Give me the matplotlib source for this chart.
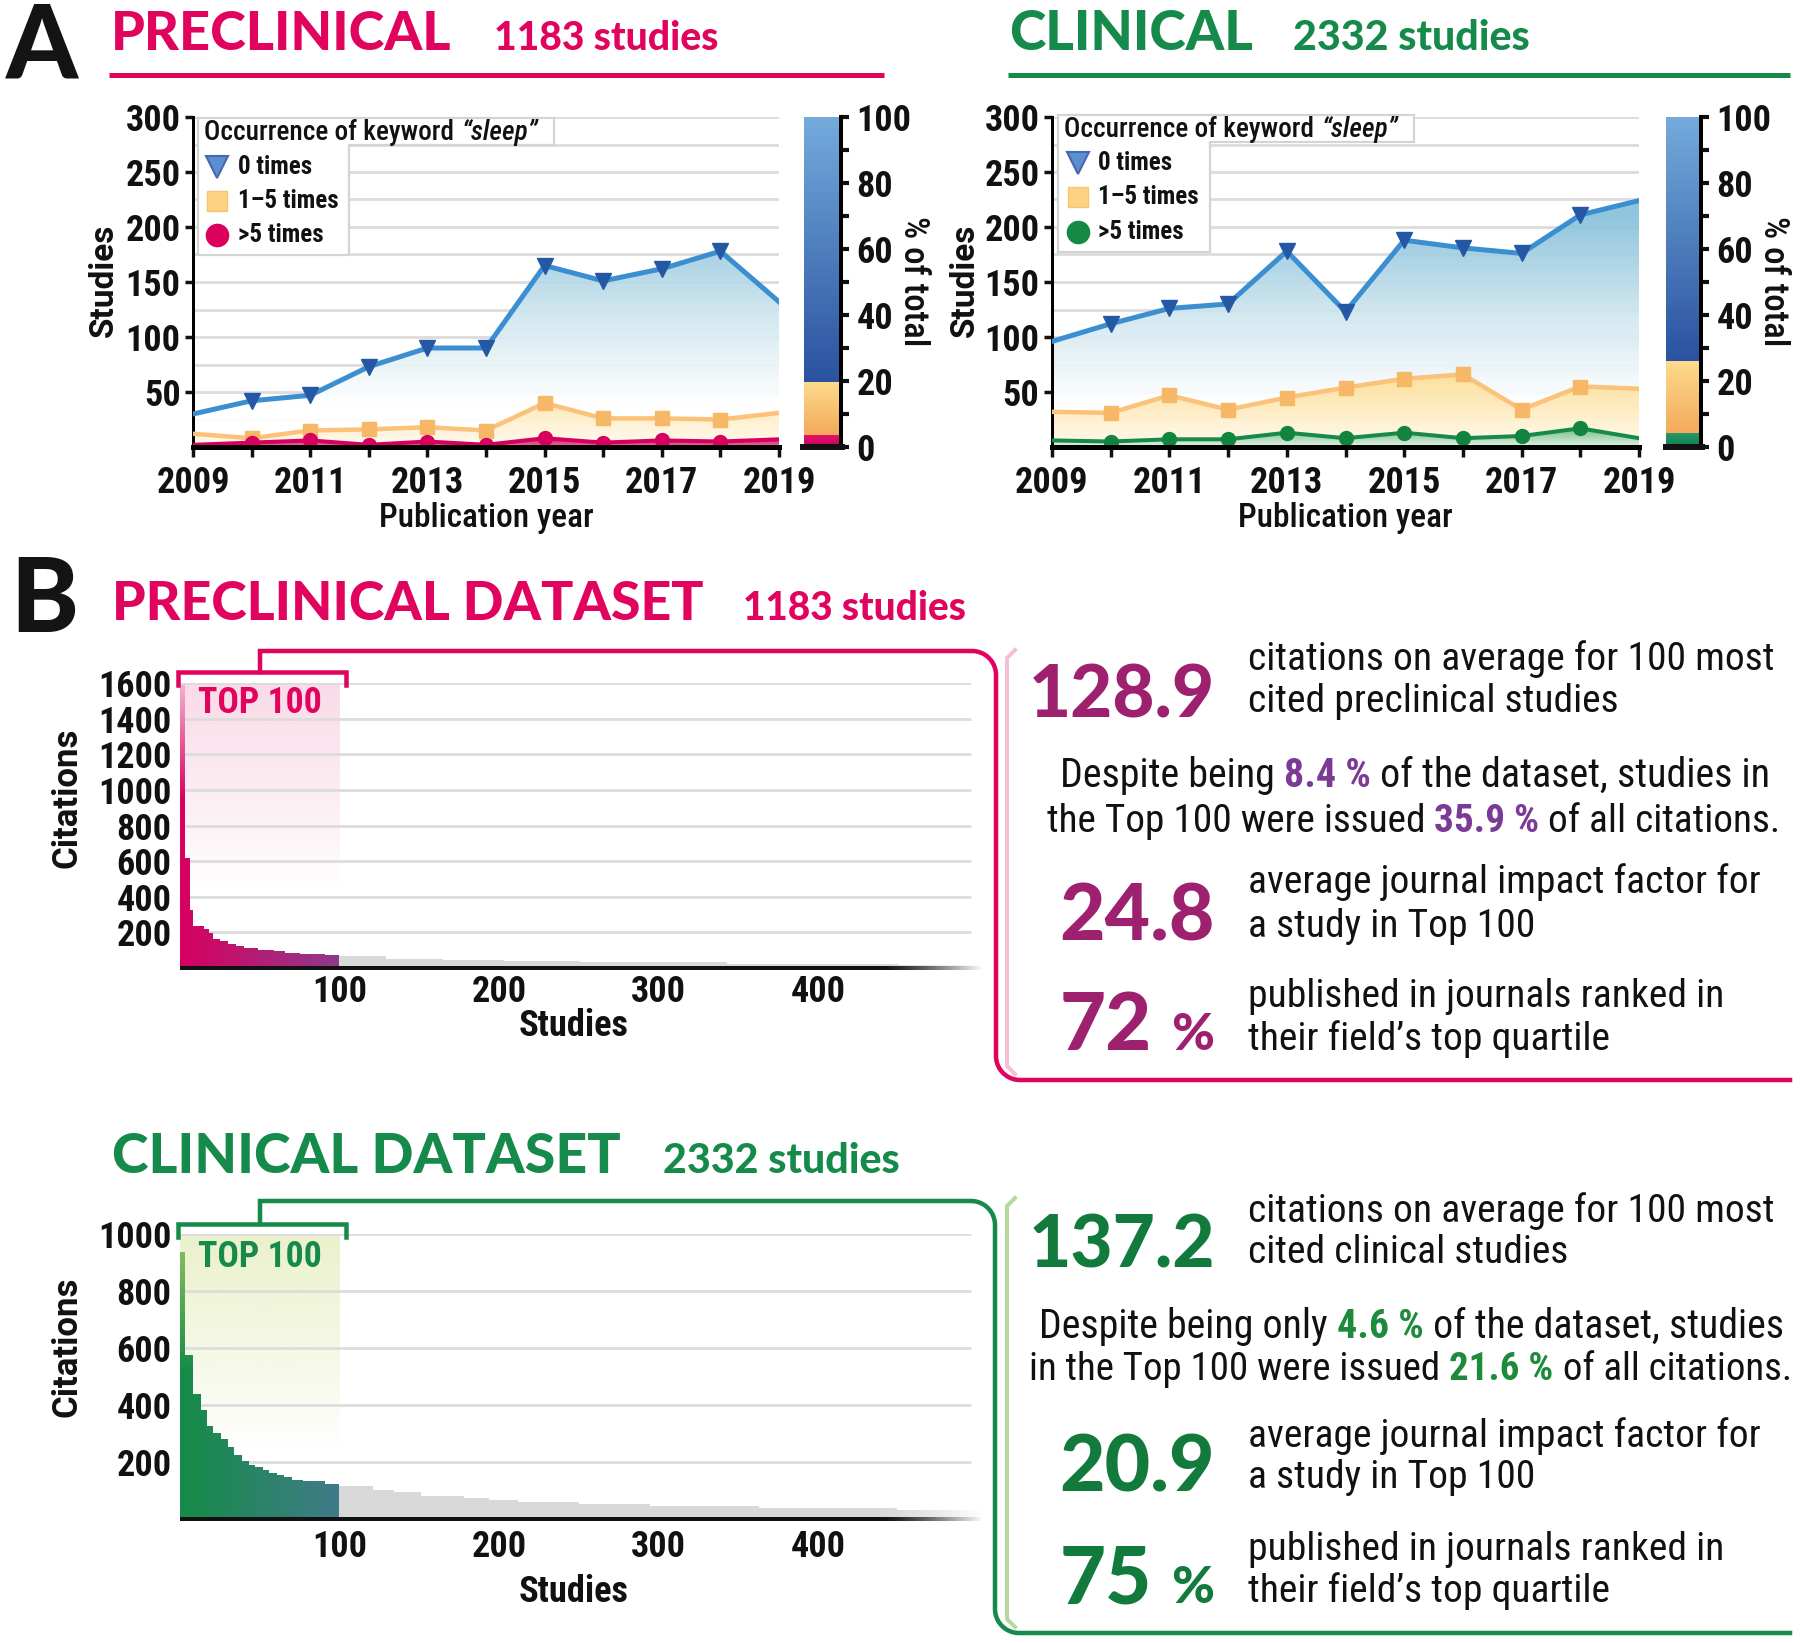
import numpy as np
import matplotlib
matplotlib.use("Agg")
import matplotlib.pyplot as plt
from matplotlib.patches import Polygon
from matplotlib.path import Path
from matplotlib.colors import to_rgb

# ---------------- data ----------------
years = [2009, 2010, 2011, 2012, 2013, 2014, 2015, 2016, 2017, 2018, 2019]
year_labels = ["2009", "", "2011", "", "2013", "", "2015", "", "2017", "", "2019"]
studies_yticks = [50, 100, 150, 200, 250, 300]
pct_ticks = [0, 20, 40, 60, 80, 100]
legend_title = "Occurrence of keyword "
legend_keyword = "\u201csleep\u201d"
legend_labels = ["0 times", "1\u20135 times", ">5 times"]

pre_zero = [30, 42, 47, 73, 90, 90, 165, 151, 162, 178, 132]
pre_low = [12, 8, 15, 16, 18, 15, 40, 26, 26, 25, 31]
pre_high = [2, 4, 6, 2, 5, 2, 8, 4, 6, 5, 7]
cli_zero = [96, 112, 126, 130, 178, 123, 188, 181, 176, 211, 224]
cli_low = [32, 31, 47, 34, 45, 54, 62, 66, 34, 55, 53]
cli_high = [6, 5, 7, 7, 13, 8, 13, 8, 10, 17, 8]

study_ticks = [100, 200, 300, 400]
pre_cit_ticks = [200, 400, 600, 800, 1000, 1200, 1400, 1600]
cli_cit_ticks = [200, 400, 600, 800, 1000]

pre_top_edges = [0, 3, 6, 8, 15, 18, 21, 25, 30, 35, 40, 49, 59, 66, 75, 91, 100]
pre_top_vals = [1590, 620, 323, 233, 218, 196, 164, 149, 136, 125, 112, 99, 93, 84, 78, 71]
pre_rest_edges = [100, 129, 165, 203, 251, 343, 451, 503]
pre_rest_vals = [65, 52, 43, 37, 32, 24, 17]

cli_top_edges = [0, 3, 8, 13, 17, 21, 26, 30, 34, 39, 43, 47, 52, 56, 61, 65, 70, 77, 91, 100]
cli_top_vals = [938, 574, 438, 381, 325, 301, 280, 251, 225, 204, 190, 182, 171, 161, 153,
                146, 138, 132, 124]
cli_rest_edges = [100, 121, 134, 151, 178, 194, 212, 250, 295, 363, 450, 503]
cli_rest_vals = [117, 103, 93, 82, 74, 65, 60, 54, 44, 39, 30]

pre_numbers = ["128.9", "24.8", "72"]
cli_numbers = ["137.2", "20.9", "75"]
pre_share = ["8.4 %", "35.9 %"]
cli_share = ["4.6 %", "21.6 %"]

# ---------------- style ----------------
W, H = 1800, 1643
MAG = "#e0045f"
GRN = "#168a4a"
PRE_NUM = "#9e2170"
PRE_HL = "#7a3a96"
CLI_NUM = "#127a3c"
CLI_HL = "#1d8b3b"
INK = "#111111"
BODY = ["Roboto Condensed", "Liberation Sans Narrow", "Roboto"]
HEAVY = ["Lato"]
WIDE = ["Roboto"]

fig = plt.figure(figsize=(W / 100, H / 100), dpi=100)
fig.patch.set_facecolor("white")
RND = fig.canvas.get_renderer()


def PT(px):
    return px * 0.72


def axes_px(l, t, r, b, **kw):
    return fig.add_axes([l / W, 1 - b / H, (r - l) / W, (b - t) / H], **kw)


def ptext(x, y, s, size, **kw):
    kw.setdefault("ha", "left")
    kw.setdefault("va", "baseline")
    return fig.text(x / W, 1 - y / H, s, fontsize=size, **kw)


def text_w(s, size, **kw):
    kw = {k: v for k, v in kw.items() if k not in ("ha", "va", "color")}
    t = fig.text(0, 0, s + "|", fontsize=size, **kw)
    t2 = fig.text(0, 0, "|", fontsize=size, **kw)
    w = t.get_window_extent(RND).width - t2.get_window_extent(RND).width
    t.remove()
    t2.remove()
    return w


def fit_size(s, width, size=30, **kw):
    return size * width / text_w(s, size, **kw)


def fit_text(x, y, s, width, size=30, **kw):
    return ptext(x, y, s, fit_size(s, width, size, **kw), **kw)


def seg_line(x, y, segs, width, size=26):
    ws = [text_w(s, size, **kw) for s, c, kw in segs]
    sc = width / sum(ws)
    cx = x
    for (s, c, kw), w in zip(segs, ws):
        ptext(cx, y, s, size * sc, color=c, **kw)
        cx += w * sc


def gradient_fill(ax, x, y, stops, z):
    poly = ax.fill_between(x, y, 0, facecolor="none", edgecolor="none", zorder=z)
    ys = np.array([s[0] for s in stops], float)
    cs = np.array([to_rgb(s[1]) for s in stops])
    ymax = max(y)
    yy = np.linspace(ymax, 0, 300)
    img = np.stack([np.interp(yy, ys, cs[:, k]) for k in range(3)], -1)[:, None, :]
    im = ax.imshow(img, extent=[x[0], x[-1], 0, ymax], origin="upper", aspect="auto",
                   interpolation="bilinear", zorder=z, alpha=0.92)
    im.set_clip_path(poly.get_paths()[0], transform=ax.transData)


# overlay axes in pixel coordinates for decorations
ov = fig.add_axes([0, 0, 1, 1], zorder=2)
ov.set_xlim(0, W)
ov.set_ylim(H, 0)
ov.set_axis_off()


# ---------------- panel A ----------------
def panel_a(left, right, cb_left, cb_right, zero, low, high, hi_line, hi_mark, hi_fill,
            hi_bar, ylab_x, pct_x, leg):
    top, bot = 117, 447
    ax = axes_px(left, top, right, bot)
    x = np.array(years, float)
    for g in range(25, 301, 25):
        ax.axhline(g, color="#dcdcdc", lw=2.0, zorder=0.5)
    gradient_fill(ax, x, zero, [(40, "#ffffff"), (120, "#cfe6ef"), (210, "#86c0db")], 1.0)
    gradient_fill(ax, x, low, [(0, "#fffaf0"), (70, "#fddc8c")], 1.2)
    gradient_fill(ax, x, high, hi_fill, 1.4)
    me = list(range(1, len(years) - 1))
    ax.plot(x, zero, color="#3b8ed0", lw=PT(5), marker="v", ms=11, mfc="#2458a4",
            mec="#2458a4", markevery=me, zorder=6)
    ax.plot(x, low, color="#fbc27a", lw=PT(4.5), marker="s", ms=9.5, mfc="#f6b766",
            mec="#f6b766", markevery=me, zorder=5)
    ax.plot(x, high, color=hi_line, lw=PT(4), marker="o", ms=10, mfc=hi_mark,
            mec=hi_mark, markevery=me, zorder=5.5)
    ax.set_xlim(2009, 2019)
    ax.set_ylim(0, 300)
    for s in ("top", "right"):
        ax.spines[s].set_visible(False)
    ax.spines["left"].set_linewidth(PT(3))
    ax.spines["bottom"].set_linewidth(PT(5))
    ax.spines["bottom"].set_zorder(8)
    ax.set_yticks(studies_yticks)
    ax.set_yticklabels([str(v) for v in studies_yticks], fontfamily=BODY,
                       fontweight="bold", fontsize=26)
    ax.set_xticks(years)
    ax.set_xticklabels(year_labels, fontfamily=BODY, fontweight="bold", fontsize=26)
    ax.tick_params(axis="y", length=6, width=2.5, pad=3, colors=INK)
    ax.tick_params(axis="x", length=7, width=2.5, pad=6, colors=INK)

    # stacked share bar
    cb = axes_px(cb_left, top, cb_right, bot)
    tots = np.array([sum(high), sum(low), sum(zero)], float)
    pct = 100 * tots / tots.sum()
    bottoms = np.concatenate([[0], np.cumsum(pct)[:-1]])
    grads = [hi_bar, ("#f3aa5b", "#fddb8d"), ("#2a52a0", "#74abdc")]
    bars = cb.bar([0.5] * 3, pct, bottom=bottoms, width=1,
                  color=[g[1] for g in grads], linewidth=0, zorder=1)
    for b, (c0, c1), lo, h in zip(bars, grads, bottoms, pct):
        yy = np.linspace(1, 0, 200)[:, None]
        img = (np.array(to_rgb(c0))[None, None, :] * (1 - yy[..., None]) +
               np.array(to_rgb(c1))[None, None, :] * yy[..., None])
        im = cb.imshow(img, extent=[0, 1, lo, lo + h], origin="upper", aspect="auto",
                       zorder=2)
        im.set_clip_path(b)
    cb.plot([-0.1, 1.12], [0, 0], color=INK, lw=PT(6), clip_on=False, zorder=5,
            solid_capstyle="butt")
    cb.set_xlim(0, 1)
    cb.set_ylim(0, 100)
    for s in ("top", "left", "bottom"):
        cb.spines[s].set_visible(False)
    cb.spines["right"].set_linewidth(PT(4))
    cb.yaxis.tick_right()
    cb.set_xticks([])
    cb.set_yticks(pct_ticks)
    cb.set_yticks([10, 30, 50, 70, 90], minor=True)
    cb.set_yticklabels([str(v) for v in pct_ticks], fontfamily=BODY, fontweight="bold",
                       fontsize=26)
    cb.tick_params(axis="y", which="both", length=6, width=3, pad=5, colors=INK,
                   right=True, left=False)

    # labels
    fig.text(ylab_x / W, 1 - 280 / H, "Studies", rotation=90, ha="center", va="center",
             fontsize=24, fontweight="bold", family=WIDE, color=INK)
    fig.text(pct_x / W, 1 - 281 / H, "% of total", rotation=270, ha="center", va="center",
             fontsize=25, family=BODY, weight="medium", color=INK)
    fit_text((left + right) / 2, 527, "Publication year", 215, ha="center",
             family=BODY, weight="medium", color=INK)

    # legend (L-shaped box)
    lx, ty, rx, my, bx, by, mk_x, tx, rows, hi_c = leg
    poly = Polygon([(lx, ty), (rx, ty), (rx, my), (bx, my), (bx, by), (lx, by)],
                   closed=True, facecolor="white", edgecolor="#d4d4d4", lw=PT(2.2))
    ov.add_patch(poly)
    seg_line(lx + 6, ty + 22, [(legend_title, INK, dict(family=BODY, weight="medium")),
                               (legend_keyword, INK, dict(family=BODY, weight="medium",
                                                          style="italic"))],
             rx - lx - 22, 16)
    ov.plot(mk_x, rows[0], marker="v", ms=16, mfc="#5b90d0", mec="#4569ad", mew=1.5)
    ov.plot(mk_x, rows[1], marker="s", ms=15, mfc="#fdd383", mec="#f8c56f", mew=1)
    ov.plot(mk_x, rows[2], marker="o", ms=16, mfc=hi_c, mec=hi_c)
    for r, lab in zip(rows, legend_labels):
        ptext(tx, r + 7, lab, 18, family=BODY, weight="bold", color=INK)
    return ax


panel_a(193, 779, 804, 841, pre_zero, pre_low, pre_high, "#d6005f", "#d8005f",
        [(0, "#e46a9c"), (9, "#d5005f")], ("#c8005a", "#e3136c"), 104, 913,
        (198, 118, 554, 145, 349, 255, 217, 238, [167, 201, 235], "#dc005f"))
panel_a(1052, 1639, 1666, 1701, cli_zero, cli_low, cli_high, "#178a48", "#13843f",
        [(0, "#e2f2e6"), (18, "#5fb57c")], ("#0f7f55", "#2a9a6a"), 965, 1774,
        (1058, 115, 1414, 142, 1210, 252, 1078, 1098, [163, 197, 232], "#148a45"))

# headers A
ptext(6, 78, "A", 74, family=HEAVY, weight="black", color="#141414")
fit_text(111, 50, "PRECLINICAL", 340, family=HEAVY, weight="black", color=MAG)
fit_text(494, 50, "1183 studies", 224, family=HEAVY, weight="black", color=MAG)
fit_text(1009, 50, "CLINICAL", 244, family=HEAVY, weight="black", color=GRN)
fit_text(1293, 50, "2332 studies", 236, family=HEAVY, weight="black", color=GRN)
ov.plot([109, 884], [74.5, 74.5], color=MAG, lw=PT(5), solid_capstyle="butt")
ov.plot([1008, 1790], [74.5, 74.5], color=GRN, lw=PT(5), solid_capstyle="butt")


# ---------------- panel B ----------------
def panel_b(top_px, bot_px, ymax, yticks, top_edges, top_vals, rest_edges, rest_vals,
            c_left, c_right, c_light, fade_lo, fade_hi, fade_amt, hl_col, hl_to,
            lab_y, xlab_y, xpad, col, light, nums, share, num_col, hl_txt, topname,
            para1_pre, para1_post, para2_pre, para2_post, frame_pts, texts_y):
    ax = axes_px(180, top_px, 982, bot_px)
    # highlight of the top-100 region
    yy = np.linspace(ymax, 0, 300)
    a = np.clip((yy - hl_to) / (ymax - hl_to), 0, 1) ** 0.9
    hl = np.zeros((300, 2, 4))
    hl[..., :3] = to_rgb(hl_col)
    hl[..., 3] = a[:, None]
    ax.imshow(hl, extent=[0, 100, 0, ymax], origin="upper", aspect="auto", zorder=0.2)
    ax.hlines(yticks, 0, 496, color="#dcdcdc", lw=2.0, zorder=0.3)
    ax.bar(rest_edges[:-1], rest_vals, width=np.diff(rest_edges), align="edge",
           color="#d9d9d9", linewidth=0, zorder=1)
    bars = ax.bar(top_edges[:-1], top_vals, width=np.diff(top_edges), align="edge",
                  color=c_left, linewidth=0, zorder=1.5)
    paths = [b.get_path().transformed(b.get_patch_transform()) for b in bars]
    comp = Path.make_compound_path(*paths)
    xs = np.linspace(0, 1, 200)
    base = (np.array(to_rgb(c_left))[None, :] * (1 - xs[:, None]) +
            np.array(to_rgb(c_right))[None, :] * xs[:, None])
    t = np.clip((yy - fade_lo) / (fade_hi - fade_lo), 0, 1) * fade_amt
    img = base[None, :, :] * (1 - t[:, None, None]) + np.array(to_rgb(c_light)) * t[:, None, None]
    im = ax.imshow(img, extent=[0, 100, 0, ymax], origin="upper", aspect="auto",
                   zorder=1.6, interpolation="bilinear")
    im.set_clip_path(comp, transform=ax.transData)
    ax.plot([0, 503], [0, 0], color=INK, lw=PT(4), clip_on=False, zorder=3,
            solid_capstyle="butt")
    fade = np.ones((2, 200, 4))
    fade[..., 3] = np.linspace(0, 1, 200)[None, :] ** 1.3
    fim = ax.imshow(fade, extent=[440, 503, -ymax * 0.05, ymax * 0.1], origin="upper",
                    aspect="auto", zorder=4)
    fim.set_clip_on(False)
    ax.set_xlim(0, 503)
    ax.set_ylim(0, ymax)
    for s in ax.spines.values():
        s.set_visible(False)
    ax.set_yticks(yticks)
    ax.set_yticklabels([str(v) for v in yticks], fontfamily=BODY, fontweight="bold",
                       fontsize=26)
    ax.set_xticks(study_ticks)
    ax.set_xticklabels([str(v) for v in study_ticks], fontfamily=BODY, fontweight="bold",
                       fontsize=26)
    ax.tick_params(axis="y", length=0, pad=6, colors=INK)
    ax.tick_params(axis="x", length=0, pad=xpad, colors=INK)
    fig.text(67 / W, 1 - lab_y / H, "Citations", rotation=90, ha="center", va="center",
             fontsize=25, fontweight="bold", family=WIDE, color=INK)
    fit_text(574, xlab_y, "Studies", 110, ha="center", family=BODY, weight="bold",
             color=INK)

    # bracket + frame
    stem_y, br_y, br_end, right_x, bot_y, light_top, light_bot, top100_y = frame_pts
    ov.plot([178, 178, 346, 346], [br_end, br_y, br_y, br_end], color=col, lw=PT(4.5),
            solid_joinstyle="miter")
    r = 24
    pts = [(260, br_y), (260, stem_y), (right_x - r, stem_y)]
    th = np.linspace(-np.pi / 2, 0, 25)
    pts += list(zip(right_x - r + r * np.cos(th), stem_y + r + r * np.sin(th)))
    th = np.linspace(np.pi, np.pi / 2, 25)
    pts += list(zip(right_x + r + r * np.cos(th), bot_y - r + r * np.sin(th)))
    pts.append((1790, bot_y))
    pts = np.array(pts)
    ov.plot(pts[:, 0], pts[:, 1], color=col, lw=PT(4.5), solid_joinstyle="miter")
    ov.plot([1015, 1007, 1007, 1015],
            [light_top - 2, light_top + 6, light_bot - 6, light_bot + 2],
            color=light, lw=PT(4))
    fit_text(198, top100_y, "TOP 100", 124, family=BODY, weight="bold", color=col)

    # stats text
    y1, y2, yp1, yp2, y3, y4, y5, y6, yn1, yn2, yn3 = texts_y
    bsz = fit_size("citations on average for 100 most", 525, 26, family=BODY,
                   weight="normal")
    fit_text(1215, yn1, nums[0], 186, ha="right", family=HEAVY, weight="black",
             color=num_col)
    ptext(1248, y1, "citations on average for 100 most", bsz, family=BODY, color=INK)
    ptext(1248, y2, "cited " + topname + " studies", bsz, family=BODY, color=INK)
    seg_line(para1_pre[1], yp1,
             [(para1_pre[0], INK, dict(family=BODY)),
              (share[0], hl_txt, dict(family=BODY, weight="bold")),
              (para1_post, INK, dict(family=BODY))], para1_pre[2], 26)
    seg_line(para2_pre[1], yp2,
             [(para2_pre[0], INK, dict(family=BODY)),
              (share[1], hl_txt, dict(family=BODY, weight="bold")),
              (para2_post, INK, dict(family=BODY))], para2_pre[2], 26)
    fit_text(1215, yn2, nums[1], 155, ha="right", family=HEAVY, weight="black",
             color=num_col)
    ptext(1248, y3, "average journal impact factor for", bsz, family=BODY, color=INK)
    ptext(1248, y4, "a study in Top 100", bsz, family=BODY, color=INK)
    fit_text(1152, yn3, nums[2], 92, ha="right", family=HEAVY, weight="black",
             color=num_col)
    fit_text(1214, yn3, "%", 43, ha="right", family=HEAVY, weight="black", color=num_col)
    ptext(1248, y5, "published in journals ranked in", bsz, family=BODY, color=INK)
    ptext(1248, y6, "their field\u2019s top quartile", bsz, family=BODY, color=INK)


panel_b(683, 968, 1600, pre_cit_ticks, pre_top_edges, pre_top_vals, pre_rest_edges,
        pre_rest_vals, "#d8005f", "#8e3b8c", "#fbd3e4", 950, 1600, 0.85, "#fadbe8", 450,
        798, 1036, 4, MAG, "#f6bfd6", pre_numbers, pre_share, PRE_NUM, PRE_HL,
        "preclinical",
        ("Despite being ", 1060, 710), " of the dataset, studies in",
        ("the Top 100 were issued ", 1047, 733), " of all citations.",
        (651, 672, 685, 996, 1080, 652, 1072, 713),
        (670, 712, 787, 832, 893, 937, 1007, 1050, 717, 940, 1050))

panel_b(1234, 1519, 1000, cli_cit_ticks, cli_top_edges, cli_top_vals, cli_rest_edges,
        cli_rest_vals, "#148c46", "#417b8a", "#a6cd62", 520, 960, 0.8, "#ebf1cc", 250,
        1347, 1602, 7, GRN, "#b5d99a", cli_numbers, cli_share, CLI_NUM, CLI_HL,
        "clinical",
        ("Despite being only ", 1039, 746), " of the dataset, studies",
        ("in the Top 100 were issued ", 1029, 764), " of all citations.",
        (1201, 1224, 1237, 995, 1633, 1200, 1625, 1267),
        (1222, 1263, 1338, 1380, 1447, 1488, 1560, 1602, 1267, 1492, 1603))

# headers B
ptext(10, 632, "B", 74, family=HEAVY, weight="black", color="#141414")
fit_text(112, 620, "PRECLINICAL DATASET", 590, family=HEAVY, weight="black", color=MAG)
fit_text(743, 620, "1183 studies", 223, family=HEAVY, weight="black", color=MAG)
fit_text(112, 1173, "CLINICAL DATASET", 507, family=HEAVY, weight="black", color=GRN)
fit_text(663, 1173, "2332 studies", 236, family=HEAVY, weight="black", color=GRN)

fig.savefig("out.png", dpi=100, facecolor="white")
